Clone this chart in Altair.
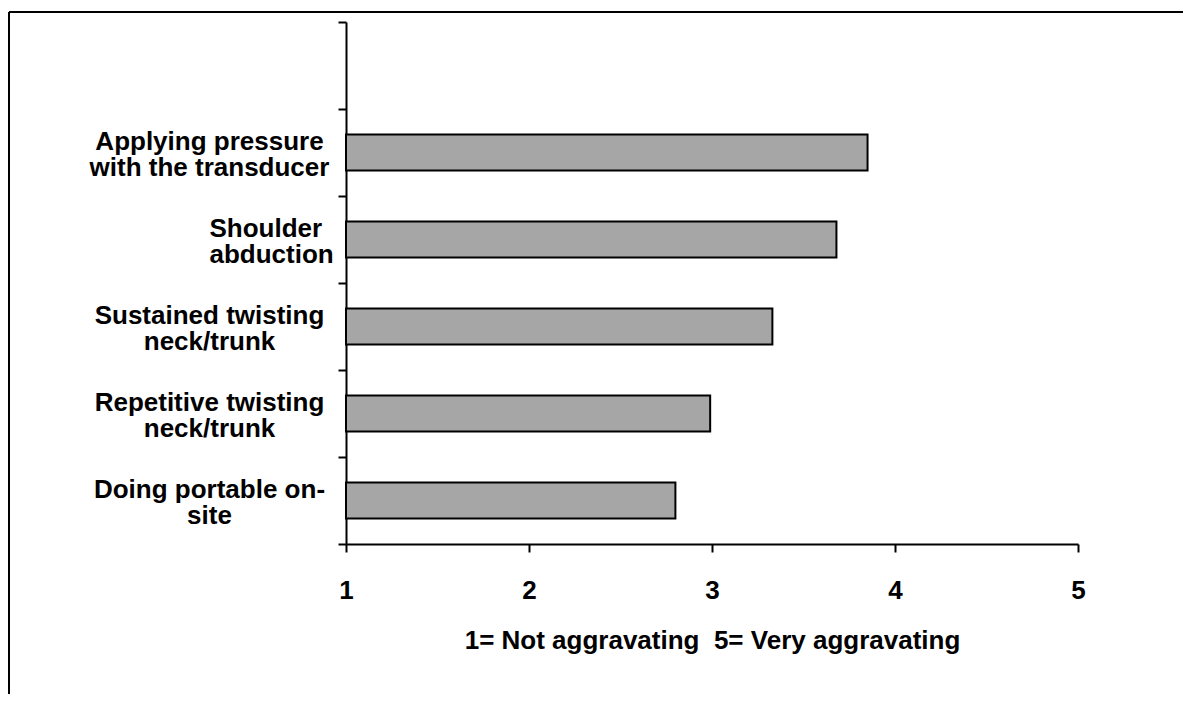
import altair as alt
import pandas as pd

# data
categories = ["",
              "Applying pressure|with the transducer",
              "Shoulder|abduction",
              "Sustained twisting|neck/trunk",
              "Repetitive twisting|neck/trunk",
              "Doing portable on-|site"]
scores = [3.85, 3.68, 3.33, 2.99, 2.80]
x_ticks = [1, 2, 3, 4, 5]
x_title = "1= Not aggravating\u00a0 5= Very aggravating"

df = pd.DataFrame({"label": categories[1:], "score": scores})

FONT = "Liberation Sans"
FS = 26
LH = 26
W, H = 732, 522
PAD = {"left": 338, "top": 14, "right": 105, "bottom": 150}

label_expr = "datum.label == '' ? '' : split(datum.label, '|')"

bars = alt.Chart(df).mark_bar(
    color="#a6a6a6", stroke="black", strokeWidth=2, size=36
).encode(
    x=alt.X("score:Q",
            scale=alt.Scale(domain=[1, 5], nice=False, zero=False),
            axis=alt.Axis(values=x_ticks, format="d", title=x_title,
                          labelFlush=False, labelPadding=25,
                          titlePadding=24, grid=False)),
    x2=alt.datum(1),
    y=alt.Y("label:N", sort=None,
            scale=alt.Scale(domain=categories, paddingInner=0,
                            paddingOuter=0),
            axis=alt.Axis(title=None, tickBand="extent", labelExpr=label_expr,
                          labelAlign={"condition": {
                              "test": "datum.value == 'Shoulder|abduction'",
                              "value": "left"}, "value": "center"},
                          labelBaseline="middle",
                          labelLineHeight=LH, labelOffset=-LH / 2 + 2,
                          labelPadding=129,
                          labelLimit=400, grid=False)),
)

frame_v = alt.Chart(alt.Data(values=[{}])).mark_rule(
    color="black", strokeWidth=2
).encode(x=alt.value(-337), y=alt.value(-10),
         y2=alt.value(H + PAD["bottom"]))
frame_h = alt.Chart(alt.Data(values=[{}])).mark_rule(
    color="black", strokeWidth=2
).encode(x=alt.value(-337), x2=alt.value(W + PAD["right"]),
         y=alt.value(-10))

chart = alt.layer(bars, frame_v, frame_h).properties(
    width=W, height=H, padding=PAD,
    autosize=alt.AutoSizeParams(type="none"),
    background="white",
).configure_view(stroke=None).configure_axis(
    domainColor="black", domainWidth=2, tickColor="black", tickWidth=2,
    tickSize=8, labelFont=FONT, labelFontSize=FS, labelFontWeight="bold",
    labelColor="black", titleFont=FONT, titleFontSize=FS,
    titleFontWeight="bold", titleColor="black", labelOverlap=False,
)

chart.save("out.html", embed_options={"renderer": "svg", "actions": False})
